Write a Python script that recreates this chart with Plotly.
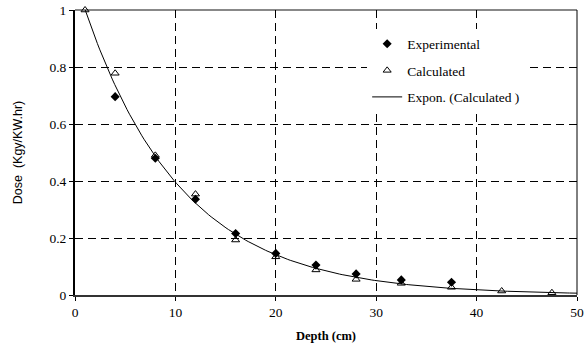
import numpy as np
import plotly.graph_objects as go

# Data
exp_depth = [4, 8, 12, 16, 20, 24, 28, 32.5, 37.5]
exp_dose = [0.696, 0.48, 0.336, 0.216, 0.146, 0.105, 0.074, 0.053, 0.045]

calc_depth = [1, 4, 8, 12, 16, 20, 24, 28, 32.5, 37.5, 42.5, 47.5]
calc_dose = [1.0, 0.778, 0.49, 0.354, 0.193, 0.134, 0.088, 0.055, 0.041, 0.027, 0.014, 0.008]

x_ticks = [0, 10, 20, 30, 40, 50]
y_ticks = [0, 0.2, 0.4, 0.6, 0.8, 1.0]
y_tick_labels = ["0", "0.2", "0.4", "0.6", "0.8", "1"]

# Exponential trendline fitted to the calculated series (Excel style: ln-linear regression)
b, ln_a = np.polyfit(np.array(calc_depth), np.log(np.array(calc_dose)), 1)
trend_x = np.linspace(1, 50, 200)
trend_y = np.exp(ln_a) * np.exp(b * trend_x)

serif = "Liberation Serif"
sans = "Liberation Sans"

fig = go.Figure()
fig.add_trace(go.Scatter(
    x=exp_depth, y=exp_dose, mode="markers", name="Experimental",
    marker=dict(symbol="diamond", size=7, color="black"),
    cliponaxis=False, legendgroup="a"))
fig.add_trace(go.Scatter(
    x=calc_depth, y=calc_dose, mode="markers", name="Calculated",
    marker=dict(symbol="triangle-up-open", size=7, color="black", line=dict(width=1)),
    cliponaxis=False, legendgroup="b"))
fig.add_trace(go.Scatter(
    x=trend_x, y=trend_y, mode="lines", name="Expon. (Calculated )",
    line=dict(color="black", width=1), legendgroup="c"))

# top border (grey) under the dashed grid, right border solid
fig.add_shape(type="line", xref="paper", yref="paper", x0=0, x1=1, y0=1, y1=1,
              line=dict(color="#888888", width=2), layer="below")
fig.add_shape(type="line", xref="paper", yref="paper", x0=1, x1=1, y0=0, y1=1,
              line=dict(color="black", width=1))

fig.update_layout(
    width=584, height=345,
    margin=dict(l=75, r=7, t=10, b=50),
    paper_bgcolor="white", plot_bgcolor="white",
    font=dict(family=serif, size=13.5, color="black"),
    showlegend=True,
    legend=dict(x=0.582, y=0.935, xanchor="left", yanchor="top",
                bgcolor="white", borderwidth=0, tracegroupgap=6,
                font=dict(family=serif, size=13.5, color="black")),
    xaxis=dict(range=[0, 50], tickvals=x_ticks, ticks="outside", ticklen=4,
               tickcolor="black", showline=True, linecolor="#333333", linewidth=2,
               showgrid=True, gridcolor="black", gridwidth=1, griddash="8px,5px",
               zeroline=False, automargin=False,
               title=dict(text="<b>Depth (cm)</b>", font=dict(family=serif, size=12.5), standoff=12),
               tickfont=dict(family=serif, size=13.5)),
    yaxis=dict(range=[0, 1], tickvals=y_ticks, ticktext=y_tick_labels, ticks="outside",
               ticklen=4, tickcolor="black", showline=True, linecolor="black", linewidth=2,
               showgrid=True, gridcolor="black", gridwidth=1, griddash="8px,5px",
               zeroline=False, automargin=False,
               title=dict(text="Dose  (Kgy/KW.hr)", font=dict(family=sans, size=12.5), standoff=24),
               tickfont=dict(family=serif, size=13.5)),
)

fig.write_html("out.html")
